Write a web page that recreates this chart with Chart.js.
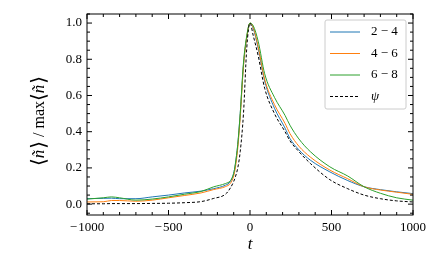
<!DOCTYPE html>
<html>
<head>
<meta charset="utf-8">
<script src="https://cdn.jsdelivr.net/npm/chart.js@4.4.0/dist/chart.umd.min.js"></script>
<style>html,body{margin:0;padding:0;background:#fff}</style>
</head>
<body>
<canvas id="chart" width="435" height="269"></canvas>
<script>
// data
const times  = [-1000,-900,-850,-800,-700,-600,-500,-400,-300,-225,-150,-120,-100,-90,-75,-60,-40,-20,0,20,50,90,150,215,245,300,370,490,600,700,800,900,1000];
const band24 = [0.030,0.032,0.033,0.030,0.030,0.040,0.050,0.062,0.072,0.085,0.105,0.125,0.170,0.220,0.330,0.500,0.770,0.920,1.000,0.970,0.860,0.680,0.530,0.420,0.363,0.300,0.243,0.178,0.130,0.096,0.080,0.068,0.058];
const band46 = [0.012,0.013,0.020,0.020,0.016,0.022,0.035,0.048,0.062,0.080,0.097,0.115,0.155,0.200,0.310,0.480,0.760,0.920,1.000,0.975,0.870,0.690,0.550,0.446,0.390,0.320,0.260,0.188,0.140,0.096,0.078,0.066,0.054];
const band68 = [0.028,0.035,0.040,0.035,0.022,0.028,0.040,0.055,0.070,0.095,0.114,0.130,0.170,0.220,0.330,0.500,0.780,0.930,1.000,0.985,0.900,0.720,0.590,0.490,0.436,0.360,0.290,0.206,0.155,0.096,0.060,0.035,0.022];
const psi    = [0.002,0.002,0.003,0.003,0.003,0.004,0.005,0.008,0.014,0.031,0.055,0.090,0.125,0.150,0.200,0.290,0.500,0.860,1.000,0.930,0.820,0.640,0.500,0.400,0.350,0.290,0.225,0.135,0.085,0.050,0.030,0.018,0.012];
const labels = ['2 − 4', '4 − 6', '6 − 8', 'ψ'];
const xTicks = [-1000, -500, 0, 500, 1000];
const yTicks = [0, 0.2, 0.4, 0.6, 0.8, 1.0];

const serif = "'Liberation Serif', 'DejaVu Serif', serif";
const pts = vals => times.map((t, i) => ({x: t, y: vals[i]}));

function line(label, vals, color, order, dash) {
    return {
        label: label,
        data: pts(vals),
        borderColor: color,
        borderWidth: 1,
        borderDash: dash || [],
        pointRadius: 0,
        fill: false,
        cubicInterpolationMode: 'monotone',
        order: order
    };
}

// frame with inward ticks on all four sides, legend and y label
const decor = {
    id: 'decor',
    afterDatasetsDraw(chart) {
        const ctx = chart.ctx;
        const a = chart.chartArea;
        const xs = chart.scales.x, ys = chart.scales.y;
        ctx.save();
        ctx.strokeStyle = '#000';
        ctx.lineWidth = 1;
        ctx.strokeRect(a.left, a.top, a.right - a.left, a.bottom - a.top);
        ctx.beginPath();
        for (let v = -1000; v <= 1000; v += 100) {
            const p = xs.getPixelForValue(v);
            const len = v % 500 === 0 ? 5 : 3;
            ctx.moveTo(p, a.bottom); ctx.lineTo(p, a.bottom - len);
            ctx.moveTo(p, a.top); ctx.lineTo(p, a.top + len);
        }
        for (let k = -1; k <= 21; k++) {
            const v = k * 0.05;
            const p = ys.getPixelForValue(v);
            const len = k % 4 === 0 ? 5 : 3;
            ctx.moveTo(a.left, p); ctx.lineTo(a.left + len, p);
            ctx.moveTo(a.right, p); ctx.lineTo(a.right - len, p);
        }
        ctx.stroke();

        // legend
        const w = 81, h = 89;
        const lx = a.right - 7 - w, ly = a.top + 6;
        ctx.fillStyle = 'rgba(255,255,255,0.8)';
        ctx.strokeStyle = '#cccccc';
        ctx.beginPath();
        ctx.roundRect(lx, ly, w, h, 2);
        ctx.fill();
        ctx.stroke();
        chart.data.datasets.forEach((ds, r) => {
            const yy = ly + 12 + r * 21.5;
            ctx.strokeStyle = ds.borderColor;
            ctx.lineWidth = 1;
            ctx.setLineDash(ds.borderDash);
            ctx.beginPath();
            ctx.moveTo(lx + 5, yy); ctx.lineTo(lx + 35, yy);
            ctx.stroke();
            ctx.setLineDash([]);
            ctx.fillStyle = '#000';
            ctx.textBaseline = 'middle';
            ctx.textAlign = 'left';
            ctx.font = (ds.label === 'ψ' ? 'italic ' : '') + '13px ' + serif;
            ctx.fillText(ds.label, lx + 46, yy);
        });

        // y axis label: text, font, gap after
        const br = "20px 'DejaVu Serif', serif";
        const nf = "italic 17px " + serif;
        const rf = "16px " + serif;
        const segs = [
            ['⟨', br, 0], ['n\u0303', nf, 1], ['⟩', br, 4], ['/', rf, 4], ['max', rf, 0],
            ['⟨', br, 0], ['n\u0303', nf, 1], ['⟩', br, 0]
        ];
        let total = 0;
        segs.forEach(s => { ctx.font = s[1]; total += ctx.measureText(s[0]).width + s[2]; });
        ctx.translate(40, 121);
        ctx.rotate(-Math.PI / 2);
        ctx.textBaseline = 'middle';
        ctx.textAlign = 'left';
        let x = -total / 2;
        segs.forEach(s => {
            ctx.font = s[1];
            ctx.fillText(s[0], x, 0);
            x += ctx.measureText(s[0]).width + s[2];
        });
        ctx.restore();
    }
};

new Chart(document.getElementById('chart'), {
    type: 'line',
    data: {
        datasets: [
            line(labels[0], band24, '#1f77b4', 4),
            line(labels[1], band46, '#ff7f0e', 3),
            line(labels[2], band68, '#2ca02c', 2),
            line(labels[3], psi, '#000000', 1, [3, 2])
        ]
    },
    options: {
        responsive: false,
        animation: false,
        layout: { padding: { left: 0, top: 14, right: 22, bottom: 0 } },
        plugins: { legend: { display: false }, tooltip: { enabled: false } },
        scales: {
            x: {
                type: 'linear',
                min: -1000,
                max: 1000,
                afterBuildTicks: s => { s.ticks = xTicks.map(v => ({value: v})); },
                afterFit: s => { s.height = 54; },
                grid: { display: false, drawTicks: false },
                border: { display: false },
                ticks: {
                    color: '#000',
                    font: { family: serif, size: 13 },
                    padding: 5,
                    maxRotation: 0,
                    autoSkip: false,
                    callback: v => String(v).replace('-', '−\u200a')
                },
                title: {
                    display: true,
                    text: 't',
                    color: '#000',
                    font: { family: serif, size: 17, style: 'italic' },
                    padding: { top: 0, bottom: 14 }
                }
            },
            y: {
                min: -0.06,
                max: 1.05,
                afterBuildTicks: s => { s.ticks = yTicks.map(v => ({value: v})); },
                afterFit: s => { s.width = 87; },
                grid: { display: false, drawTicks: false },
                border: { display: false },
                ticks: {
                    color: '#000',
                    font: { family: serif, size: 13 },
                    padding: 5,
                    autoSkip: false,
                    callback: v => v.toFixed(1)
                }
            }
        }
    },
    plugins: [decor]
});
</script>
</body>
</html>
